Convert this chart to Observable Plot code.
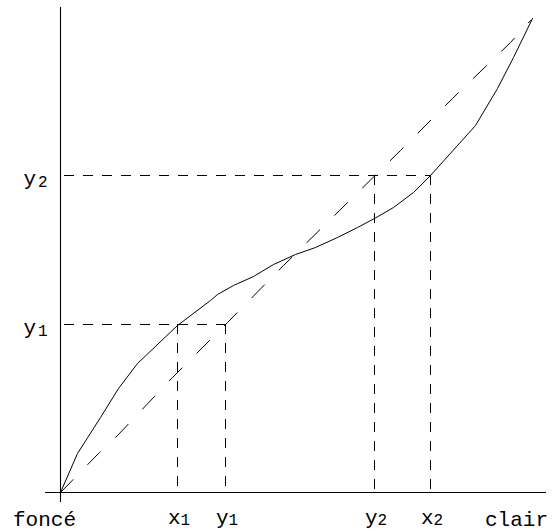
<!DOCTYPE html>
<html><head><meta charset="utf-8">
<script src="https://cdn.jsdelivr.net/npm/d3@7"></script>
<script src="https://cdn.jsdelivr.net/npm/@observablehq/plot@0.6"></script>
<style>body{margin:0;background:#fff} svg{display:block}</style>
</head><body><div id="chart"></div>
<script>
// Solid response curve (foncé → clair)
const curveX = [0, 17, 40, 58, 77, 117, 150, 157, 173, 193, 213, 235, 255, 277, 297, 314, 333, 353, 370, 415, 437, 453, 472];
const curveY = [0, 39, 75, 104, 129, 167, 192, 198, 207, 216, 228, 238, 245, 255, 265, 274, 285, 300, 317, 367, 404, 435, 474];
// Dashed (near-identity) reference line
const diagX = [0, 39, 57, 112, 167, 223, 279, 340, 392, 450, 470];
const diagY = [0, 40, 57, 115, 170, 227, 282, 342, 394, 450, 472];
// Guide ticks on the horizontal axis
const bottomLetters = ["x", "y", "y", "x"];
const bottomSubs = ["1", "1", "2", "2"];
const bottomValues = [117, 165, 314, 370];
const bottomTops = [168, 168, 317, 317];
// Guide ticks on the vertical axis
const leftLetters = ["y", "y"];
const leftSubs = ["1", "2"];
const leftValues = [168, 317];
const leftReach = [165, 370];
// End labels
const endLabels = ["foncé", "clair"];
const endPositions = [0, 472];

const curve = curveX.map((x, i) => ({x, y: curveY[i]}));
const diag = diagX.map((x, i) => ({x, y: diagY[i]}));
const bottom = bottomValues.map((v, i) => ({v, top: bottomTops[i], letter: bottomLetters[i], sub: bottomSubs[i]}));
const left = leftValues.map((v, i) => ({v, reach: leftReach[i], letter: leftLetters[i], sub: leftSubs[i]}));
const ends = endLabels.map((t, i) => ({t, x: endPositions[i]}));

const chart = Plot.plot({
  width: 552,
  height: 532,
  marginLeft: 60,
  marginRight: 20,
  marginTop: 18,
  marginBottom: 40,
  x: {domain: [0, 472], axis: null},
  y: {domain: [0, 474], axis: null},
  style: {fontFamily: "Liberation Mono", background: "white", color: "black"},
  marks: [
    Plot.ruleY([0], {x1: -15, x2: 486, stroke: "black", strokeWidth: 1.1}),
    Plot.ruleX([0], {y1: -10, y2: 485, stroke: "black", strokeWidth: 1.1}),
    Plot.ruleY(left, {y: "v", x1: 0, x2: "reach", stroke: "black", strokeWidth: 1, strokeDasharray: "10,9", strokeDashoffset: -4}),
    Plot.ruleX(bottom, {x: "v", y1: "top", y2: 0, stroke: "black", strokeWidth: 1, strokeDasharray: "10,9"}),
    Plot.line(diag, {x: "x", y: "y", stroke: "black", strokeWidth: 1, strokeDasharray: "18,21"}),
    Plot.line(curve, {x: "x", y: "y", stroke: "black", strokeWidth: 1}),
    Plot.text(bottom, {x: "v", y: 0, text: "letter", textAnchor: "end", lineAnchor: "bottom", dx: 3, dy: 31, fontSize: 21, fill: "black"}),
    Plot.text(bottom, {x: "v", y: 0, text: "sub", textAnchor: "start", lineAnchor: "bottom", dx: 3, dy: 32.5, fontSize: 16, fill: "black"}),
    Plot.text(left, {x: 0, y: "v", text: "letter", textAnchor: "end", lineAnchor: "bottom", dx: -24.5, dy: 9, fontSize: 21, fill: "black"}),
    Plot.text(left, {x: 0, y: "v", text: "sub", textAnchor: "end", lineAnchor: "bottom", dx: -13, dy: 11, fontSize: 16, fill: "black"}),
    Plot.text(ends, {x: "x", y: 0, text: "t", textAnchor: "middle", lineAnchor: "bottom", dx: -16, dy: 33.5, fontSize: 21, fill: "black"})
  ]
});
document.getElementById("chart").append(chart);
</script>
</body></html>
